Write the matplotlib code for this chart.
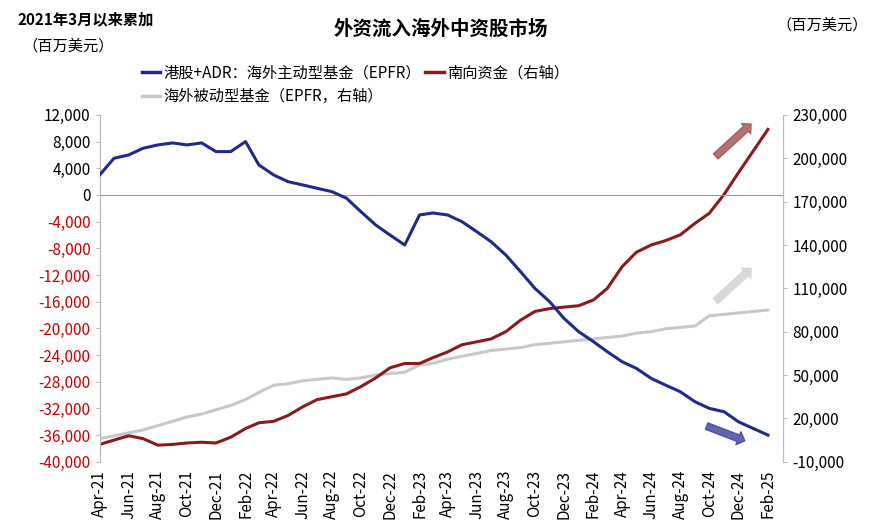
import matplotlib.pyplot as plt
import matplotlib.dates as mdates
import pandas as pd
from matplotlib.lines import Line2D

plt.rcParams['font.family'] = ['Noto Sans CJK SC', 'DejaVu Sans']

dates = pd.date_range("2021-04-01", "2025-02-01", freq="MS")

active_fund = [3000, 5500, 6000, 7000, 7500, 7800, 7500, 7800, 6500, 6500, 8000, 4500,
               3000, 2000, 1500, 1000, 500, -500, -2500, -4500, -6000, -7500, -3000, -2700,
               -3000, -4000, -5500, -7000, -9000, -11500, -14000, -16000, -18500, -20500, -22000, -23500,
               -25000, -26000, -27500, -28500, -29500, -31000, -32000, -32500, -34000, -35000, -36000]

southbound = [2000, 5000, 8000, 6000, 1500, 2000, 3000, 3500, 3000, 7000, 13000, 17000,
              18000, 22000, 28000, 33000, 35000, 37000, 42000, 48000, 55000, 58000, 58000, 62000,
              66000, 71000, 73000, 75000, 80000, 88000, 94000, 96000, 97000, 98000, 102000, 110000,
              125000, 135000, 140000, 143000, 147000, 155000, 162000, 175000, 190000, 205000, 220000]

passive_fund = [6000, 8000, 10000, 12000, 15000, 18000, 21000, 23000, 26000, 29000, 33000, 38000,
                43000, 44000, 46000, 47000, 48000, 47000, 48000, 50000, 51000, 52000, 57000, 58000,
                61000, 63000, 65000, 67000, 68000, 69000, 71000, 72000, 73000, 74000, 75000, 76000,
                77000, 79000, 80000, 82000, 83000, 84000, 91000, 92000, 93000, 94000, 95000]

left_ticks = list(range(12000, -40001, -4000))
right_ticks = list(range(-10000, 230001, 30000))

fig = plt.figure(figsize=(8.82, 5.32), dpi=100)
ax = fig.add_axes([0.113, 0.132, 0.775, 0.652])
ax2 = ax.twinx()

ax2.plot(dates, passive_fund, color='#c8c8c8', lw=2.2)
ax2.plot(dates, southbound, color='#8b1a1a', lw=2.2)
ax.plot(dates, active_fund, color='#1f2a8a', lw=2.2, zorder=5)
ax.set_zorder(ax2.get_zorder() + 1)
ax.patch.set_visible(False)

ax.set_ylim(-40000, 12000)
ax2.set_ylim(-10000, 230000)
ax.set_yticks(left_ticks)
ax.set_yticklabels([f"{v:,}" for v in left_ticks], fontsize=11)
for lab, v in zip(ax.get_yticklabels(), left_ticks):
    lab.set_color('black' if v >= 0 else '#cc0000')
ax2.set_yticks(right_ticks)
ax2.set_yticklabels([f"{v:,}" for v in right_ticks], fontsize=11)

ax.set_xlim(pd.Timestamp("2021-04-01"), pd.Timestamp("2025-03-05"))
ax.xaxis.set_major_locator(mdates.MonthLocator(bymonth=[2, 4, 6, 8, 10, 12]))
ax.xaxis.set_major_formatter(mdates.DateFormatter('%b-%y'))
plt.setp(ax.get_xticklabels(), rotation=90, fontsize=11)
ax.axhline(0, color='#999999', lw=0.8)
ax.tick_params(axis='x', length=0, pad=6)
ax2.tick_params(axis='x', length=0)
for a in (ax, ax2):
    a.spines['top'].set_visible(False)
    a.spines['bottom'].set_visible(False)
    a.spines['left'].set_color('#bbbbbb')
    a.spines['right'].set_color('#bbbbbb')
ax.tick_params(axis='y', length=3, color='#bbbbbb')
ax2.tick_params(axis='y', length=3, color='#bbbbbb')

# decorative trend arrows
ax2.annotate('', xy=(pd.Timestamp("2025-01-01"), 225000), xytext=(pd.Timestamp("2024-10-10"), 200000),
             arrowprops=dict(arrowstyle='simple,head_width=1,tail_width=0.5', color='#a05050', alpha=0.8))
ax2.annotate('', xy=(pd.Timestamp("2025-01-01"), 125000), xytext=(pd.Timestamp("2024-10-10"), 100000),
             arrowprops=dict(arrowstyle='simple,head_width=1,tail_width=0.5', color='#d8d8d8'))
ax.annotate('', xy=(pd.Timestamp("2024-12-20"), -37000), xytext=(pd.Timestamp("2024-09-20"), -34500),
            arrowprops=dict(arrowstyle='simple,head_width=1,tail_width=0.5', color='#3a3f9a', alpha=0.8))

fig.text(0.02, 0.955, "2021年3月以来累加", fontsize=11, fontweight='bold')
fig.text(0.025, 0.905, "（百万美元）", fontsize=11)
fig.text(0.88, 0.945, "（百万美元）", fontsize=11)
fig.text(0.5, 0.935, "外资流入海外中资股市场", fontsize=14, fontweight='bold', ha='center')

h1 = [Line2D([], [], color='#1f2a8a', lw=2.5), Line2D([], [], color='#8b1a1a', lw=2.5)]
fig.legend(h1, ["港股+ADR：海外主动型基金（EPFR）", "南向资金（右轴）"], loc='upper left',
           bbox_to_anchor=(0.145, 0.905), ncol=2, frameon=False, fontsize=11,
           handlelength=1.2, handletextpad=0.2, columnspacing=0.3)
fig.legend([Line2D([], [], color='#c8c8c8', lw=2.5)], ["海外被动型基金（EPFR，右轴）"], loc='upper left',
           bbox_to_anchor=(0.145, 0.86), frameon=False, fontsize=11,
           handlelength=1.2, handletextpad=0.2)

fig.savefig("out.png", dpi=100)
